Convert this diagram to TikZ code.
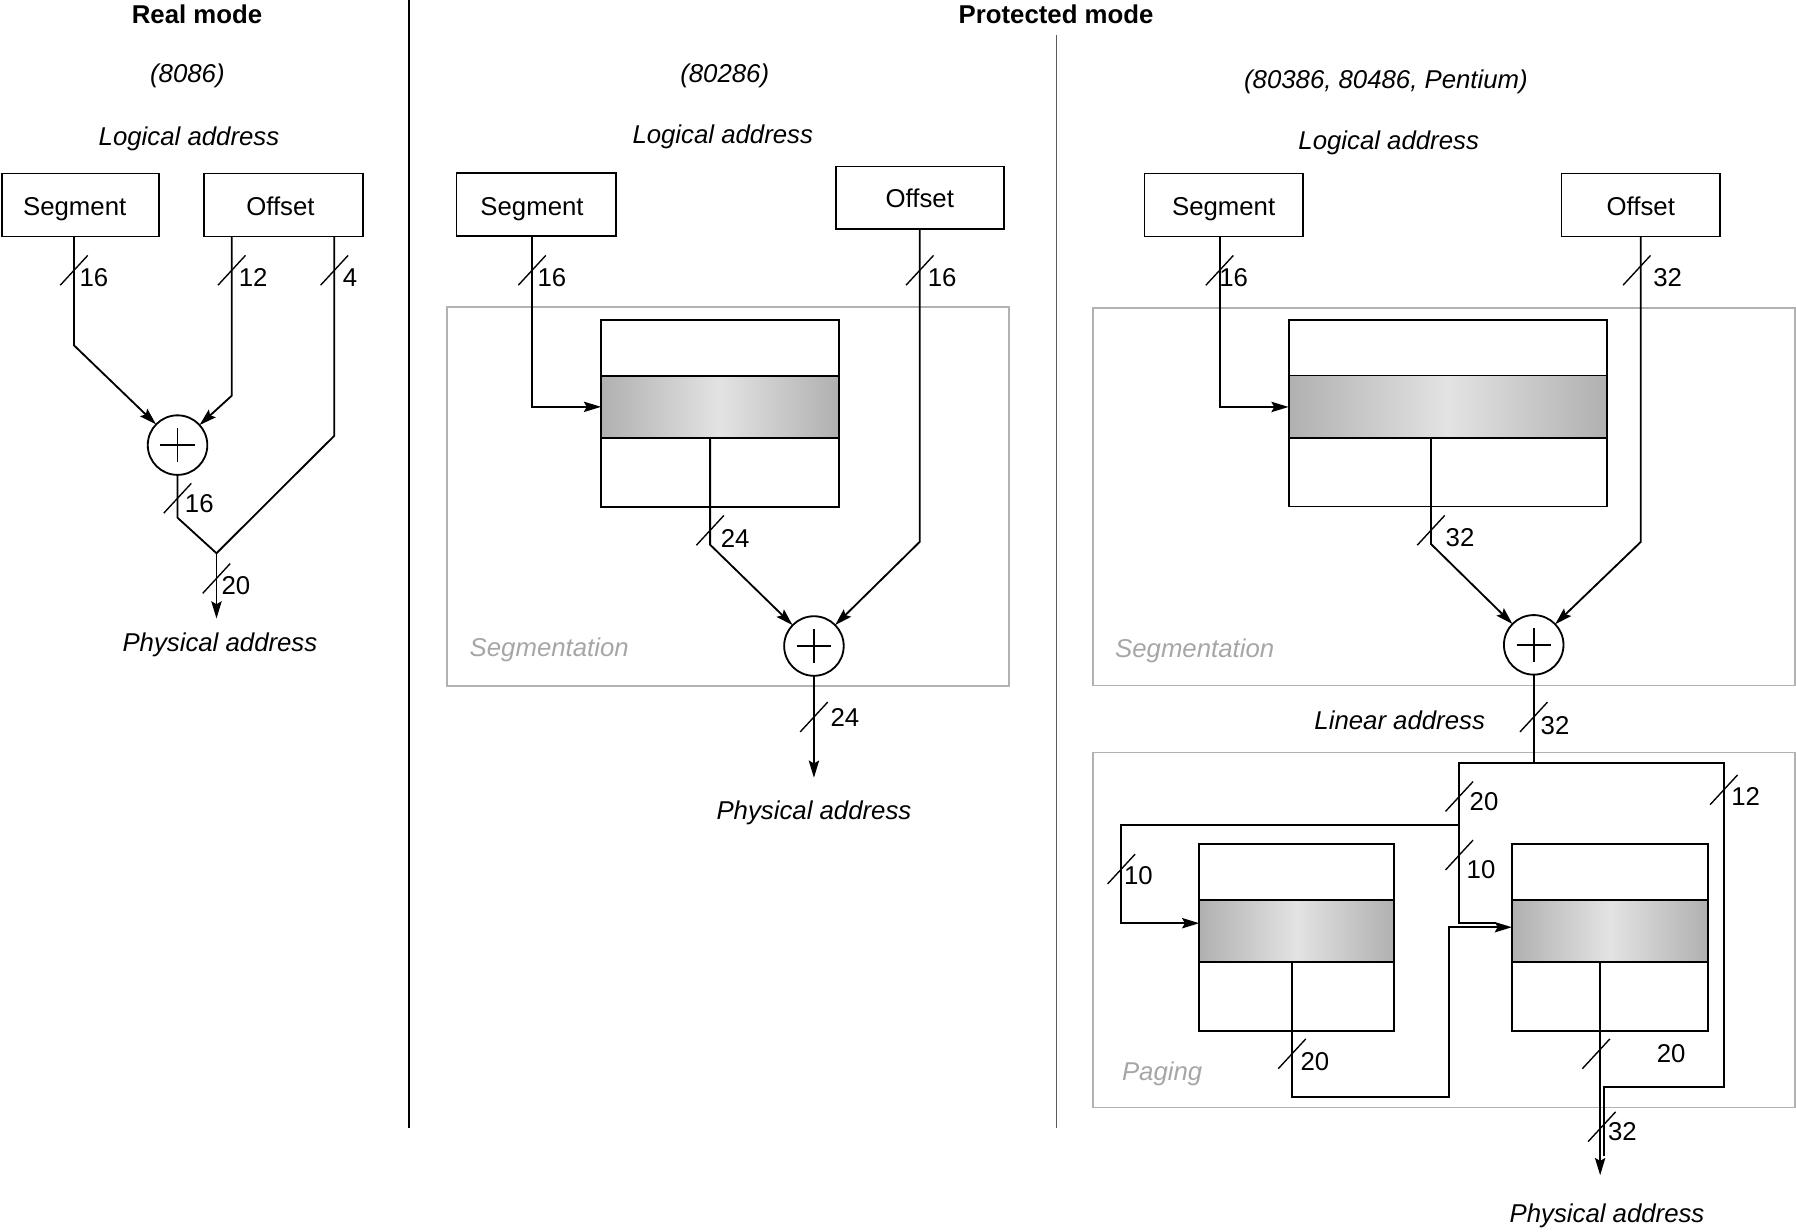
\documentclass[tikz,border=0pt]{standalone}
\usepackage{fontspec}
\setmainfont{Liberation Sans}
\usetikzlibrary{arrows.meta, positioning, calc}

\begin{document}
\begin{tikzpicture}[
					x=1pt, y=-1pt,
					wire/.style={line width=1.6pt},
					arr/.style={wire, -{Stealth[length=15pt, width=9pt, inset=2.5pt]}},
					frame/.style={draw=gray!60, line width=1.5pt},
					field/.style={draw, wire, rectangle, minimum height=55, inner sep=0pt, outer sep=0pt,
						text height=18pt, text depth=0pt, font=\fontsize{22.5}{27}\selectfont},
					desc/.style={draw, wire, rectangle, inner sep=0pt, outer sep=0pt},
					band/.style={desc, left color=gray!62, right color=gray!62, middle color=gray!22},
					adder/.style={draw, wire, circle, minimum size=52, inner sep=0pt, outer sep=0pt, fill=white,
						path picture={\draw[wire] (path picture bounding box.center) +(-15,0) -- +(15,0) +(0,-15) -- +(0,15);}},
					lbl/.style={font=\fontsize{22.5}{27}\selectfont\itshape, inner sep=0pt},
					grp/.style={lbl, text=gray!70},
					num/.style={font=\fontsize{22.5}{27}\selectfont, inner sep=0pt},
					head/.style={font=\fontsize{22.5}{27}\selectfont\bfseries, inner sep=0pt},
					slash/.pic={\draw[line width=1.2pt] (-12,13) -- (12,-13);}
					]
					\useasboundingbox (0,0) rectangle (1568,1075);
					
					% --- Titles and dividers ---
					\node[head] (rtitle) at (172,12.8) {Real mode};
					\node[head] (ptitle) at (922,12.8) {Protected mode};
					\draw[wire] (357,0) -- (357,985);
					\draw[line width=1.3pt, black!65] (922.3,30.8) -- (922.3,985);
					
					% --- Left: Real mode (8086) ---
					\node[lbl] (rcpu) at (163.6,66) {(8086)};
					\node[lbl] (rlog) at (165,121.6) {Logical address};
					\node[field, minimum width=137.5] (rseg) at (70.2,179) {Segment\hspace*{10pt}};
					\node[field, minimum width=138.8] (roff) at (247.8,179) {Offset\hspace*{6pt}};
					\node[adder] (radd) at (155,388.6) {};
					\coordinate (rjoin) at (189,483);
					\coordinate (rend) at (189,540);
					\draw[arr] ([xshift=-5.6pt]rseg.south) -- ++(0,95) -- (radd);
					\draw[arr] ([xshift=-45.5pt]roff.south) -- ++(0,139) -- (radd);
					\draw[wire] ([xshift=44pt]roff.south) -- ++(0,174) -- (rjoin);
					\draw[wire] (radd.south) -- ++(0,37.4) -- (rjoin);
					\draw[arr] (rjoin) -- (rend);
					\pic at (64.6,236) {slash}; \node[num] (rsegw) at (82,242.5) {16};
					\pic at (202.3,236) {slash}; \node[num] (roffw) at (221,242.5) {12};
					\pic at (291.9,236) {slash}; \node[num] (rlow) at (305.6,242.5) {4};
					\pic at (155,435) {slash}; \node[num] (raddw) at (174,440) {16};
					\pic at (189,505) {slash}; \node[num] (rphysw) at (206,511.5) {20};
					\node[lbl] (rphys) at (192,563) {Physical address};
					
					% --- Middle: Protected mode (80286) ---
					\node[lbl] (mcpu) at (632.7,66.3) {(80286)};
					\node[lbl] (mlog) at (631,119.7) {Logical address};
					\node[field, minimum width=139] (mseg) at (468,178.8) {Segment\hspace*{7pt}};
					\node[field, minimum width=146.6, minimum height=54.4] (moff) at (803,172.5) {Offset};
					\draw[frame] (390.3,268.3) rectangle (880.7,598.6);
					\node[grp] (msegm) at (479.5,567.6) {Segmentation};
					\node[desc, minimum width=207.5, minimum height=163.3] (mtab) at (628.5,360.9) {};
					\node[band, minimum width=207.5, minimum height=54.4] (mband) at (628.5,355.2) {};
					\node[adder] (madd) at (710.6,564) {};
					\coordinate (mend) at (710.6,679);
					\draw[arr] ([xshift=-3.5pt]mseg.south) |- (mband.west);
					\draw[arr] (moff.south) -- ++(0,273.3) -- (madd);
					\draw[arr] ([xshift=-8.5pt]mband.south) -- ++(0,93.2) -- (madd);
					\draw[arr] (madd.south) -- (mend);
					\pic at (464.5,236) {slash}; \node[num] (msegw) at (481.8,242.7) {16};
					\pic at (803,236) {slash}; \node[num] (moffw) at (822.5,242.7) {16};
					\pic at (620,463) {slash}; \node[num] (mbasew) at (641.8,470) {24};
					\pic at (710.6,626) {slash}; \node[num] (mphysw) at (737.7,626) {24};
					\node[lbl] (mphys) at (710.6,710) {Physical address};
					
					% --- Right: Protected mode (80386, 80486, Pentium) ---
					\node[lbl] (pcpu) at (1210,71.4) {(80386, 80486, Pentium)};
					\node[lbl] (plog) at (1212.4,124.3) {Logical address};
					\node[field, minimum width=138.2] (pseg) at (1068.3,179) {Segment};
					\node[field, minimum width=138.5] (poff) at (1432.5,179) {Offset};
					\draw[frame] (954.2,268.6) rectangle (1567,598.5);
					\node[grp] (psegm) at (1043,568.4) {Segmentation};
					\node[desc, minimum width=278, minimum height=162.7] (ptab) at (1264,360.8) {};
					\node[band, minimum width=278, minimum height=54.9] (pband) at (1264,355.3) {};
					\node[adder] (padd) at (1339,563) {};
					\draw[arr] ([xshift=-3.5pt]pseg.south) |- (pband.west);
					\draw[arr] (poff.south) -- ++(0,266.6) -- (padd);
					\draw[arr] ([xshift=-14.7pt]pband.south) -- ++(0,92.2) -- (padd);
					\pic at (1064.8,236) {slash}; \node[num] (psegw) at (1077,242.5) {16};
					\pic at (1429,236) {slash}; \node[num] (poffw) at (1456,242.5) {32};
					\pic at (1249.3,463) {slash}; \node[num] (pbasew) at (1274.7,469.8) {32};
					
					% --- Right: paging ---
					\node[lbl] (plin) at (1222,628.9) {Linear address};
					\draw[frame] (954.2,657) rectangle (1567,967);
					\node[grp] (ppag) at (1014.6,937.6) {Paging};
					\node[desc, minimum width=170, minimum height=163] (dir) at (1132,818.5) {};
					\node[band, minimum width=170, minimum height=54] (dirband) at (1132,813) {};
					\node[desc, minimum width=171, minimum height=163] (pgt) at (1405.5,818.5) {};
					\node[band, minimum width=171, minimum height=54] (pgtband) at (1405.5,813) {};
					\coordinate (lin) at (1339,666);
					\coordinate (br) at (1274,720);
					\coordinate (pend) at (1397,1026);
					\draw[wire] (padd.south) -- (lin);
					\draw[wire] (lin) -- ++(-65,0) -- ++(0,140) -- ([xshift=-14pt, yshift=7pt]pgtband.west);
					\draw[arr] (br) -- ++(-295,0) |- ([yshift=7pt]dirband.west);
					\draw[wire] (lin) -- ++(166,0) -- ++(0,283) -- ++(-105,0) -- ++(0,60);
					\draw[arr] ([xshift=-4pt]dirband.south) -- ++(0,118) -| ++(137,-148.5) -- ([yshift=3.5pt]pgtband.west);
					\draw[arr] ([xshift=-8.5pt]pgtband.south) -- (pend);
					\pic at (1339,626) {slash}; \node[num] (plinw) at (1357.6,633.3) {32};
					\pic at (1274,695.4) {slash}; \node[num] (pdirw) at (1295.6,699.8) {20};
					\pic at (1505,689.5) {slash}; \node[num] (pofsw) at (1524,695.4) {12};
					\pic at (979,758.7) {slash}; \node[num] (pdirix) at (993.9,764.8) {10};
					\pic at (1274,746.5) {slash}; \node[num] (ppgix) at (1293,759) {10};
					\pic at (1128,920) {slash}; \node[num] (pdirout) at (1148,927) {20};
					\pic at (1393.5,920) {slash}; \node[num] (ppgout) at (1459,920) {20};
					\pic at (1398.5,983.7) {slash}; \node[num] (pphysw) at (1416.5,988) {32};
					\node[lbl] (pphys) at (1403,1061.7) {Physical address};
				\end{tikzpicture}
\end{document}
